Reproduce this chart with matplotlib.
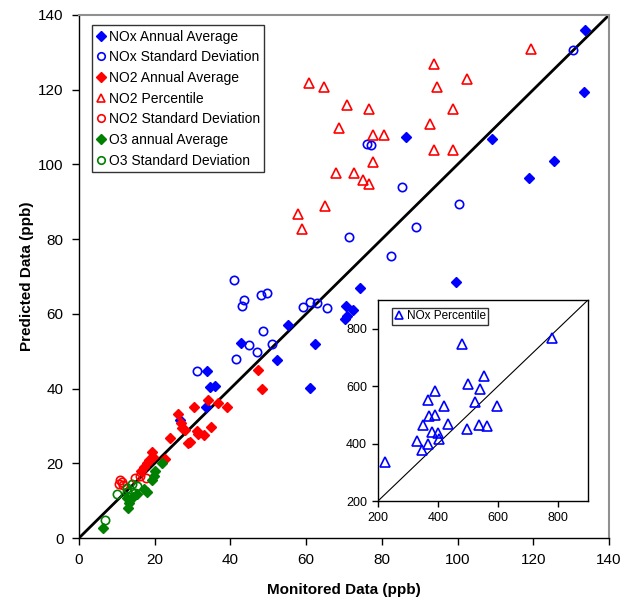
import matplotlib
matplotlib.use("Agg")
import matplotlib.pyplot as plt

plt.rcParams['font.family'] = ['Liberation Sans', 'DejaVu Sans']

# ---------------- data (monitored, predicted) ----------------
nox_avg_x = [133.7, 133.4, 86.4, 109.1, 125.5, 118.9, 99.5, 74.1, 70.5, 72.3, 70.7, 70.3,
             55.2, 42.7, 62.3, 52.2, 33.7, 34.6, 35.9, 61.0, 33.5, 26.7]
nox_avg_y = [135.9, 119.5, 107.4, 106.9, 100.9, 96.3, 68.6, 67.0, 62.1, 61.0, 59.4, 58.7,
             57.1, 52.3, 52.0, 47.6, 44.7, 40.3, 40.7, 40.1, 35.2, 31.5]

nox_sd_x = [130.6, 76.2, 77.1, 85.4, 100.4, 89.0, 82.3, 71.2, 41.0, 43.7, 43.1, 48.2,
            49.6, 59.2, 61.0, 62.8, 65.4, 48.5, 44.9, 51.0, 47.0, 41.5, 31.1]
nox_sd_y = [130.5, 105.6, 105.2, 94.0, 89.3, 83.2, 75.4, 80.6, 69.1, 63.8, 62.1, 65.1,
            65.7, 61.8, 63.2, 62.8, 61.7, 55.3, 51.7, 52.0, 49.7, 47.8, 44.8]

no2_avg_x = [47.4, 48.3, 30.5, 34.2, 36.6, 39.0, 26.2, 26.9, 27.1, 28.0, 31.1, 31.5,
             33.0, 34.8, 24.0, 28.9, 29.3, 19.2, 19.6, 18.5, 17.9, 17.2, 16.5, 22.7]
no2_avg_y = [44.9, 39.8, 35.2, 37.0, 36.1, 35.0, 33.3, 30.7, 29.5, 28.8, 28.6, 27.9,
             27.7, 29.6, 26.9, 25.3, 25.8, 23.0, 21.7, 21.0, 20.0, 19.0, 17.9, 21.2]

no2_pct_x = [119.5, 93.8, 102.6, 94.6, 76.7, 98.7, 92.7, 77.7, 80.6, 93.8, 98.7, 77.7,
             74.9, 76.7, 60.8, 64.8, 70.7, 68.8, 67.8, 72.7, 64.9, 57.8, 58.8]
no2_pct_y = [130.8, 126.8, 122.8, 120.7, 114.8, 114.8, 110.7, 107.8, 107.8, 103.8, 103.8, 100.6,
             95.8, 94.8, 121.7, 120.8, 115.8, 109.8, 97.8, 97.8, 88.9, 86.8, 82.8]

no2_sd_x = [17.6, 16.0, 14.8, 10.8, 11.4, 10.5, 11.7]
no2_sd_y = [16.0, 16.5, 16.0, 15.5, 15.1, 14.4, 14.2]

o3_avg_x = [21.8, 20.1, 19.8, 19.3, 17.2, 17.9, 15.2, 14.3, 12.6, 13.3, 13.0, 6.4]
o3_avg_y = [20.0, 17.9, 16.6, 15.5, 13.0, 12.4, 11.7, 11.0, 10.8, 9.4, 8.1, 2.6]

o3_sd_x = [10.0, 12.6, 12.6, 13.9, 15.2, 14.8, 13.0, 6.9]
o3_sd_y = [11.8, 12.2, 13.5, 14.5, 13.9, 12.1, 10.9, 4.7]

nox_pct_x = [222, 481, 781, 554, 501, 541, 389, 367, 420, 522, 596, 369,
             391, 350, 433, 379, 401, 402, 329, 366, 347, 497, 537, 564]
nox_pct_y = [335, 746, 769, 636, 608, 590, 584, 551, 532, 546, 532, 496,
             499, 464, 468, 442, 437, 416, 409, 399, 379, 452, 465, 461]

main_ticks = [0, 20, 40, 60, 80, 100, 120, 140]
inset_ticks = [200, 400, 600, 800]

# ---------------- figure ----------------
W, H = 621, 605
fig = plt.figure(figsize=(W / 100, H / 100), dpi=100)
ax = fig.add_axes([79 / W, 67 / H, 530 / W, 523 / H])

BLUE, RED, GREEN = '#0000FF', '#FF0000', '#008000'
ms_d, ms_o, ms_t = 5.5, 6, 6.5

ax.plot([0, 140], [0, 140], color='black', lw=2, zorder=1)
ax.plot(nox_avg_x, nox_avg_y, ls='none', marker='D', ms=ms_d, color=BLUE, mec=BLUE,
        label='NOx Annual Average', zorder=3)
ax.plot(nox_sd_x, nox_sd_y, ls='none', marker='o', ms=ms_o, mfc='none', mec=BLUE, mew=1.2,
        label='NOx Standard Deviation', zorder=3)
ax.plot(no2_avg_x, no2_avg_y, ls='none', marker='D', ms=ms_d, color=RED, mec=RED,
        label='NO2 Annual Average', zorder=3)
ax.plot(no2_pct_x, no2_pct_y, ls='none', marker='^', ms=ms_t, mfc='none', mec=RED, mew=1.2,
        label='NO2 Percentile', zorder=3)
ax.plot(no2_sd_x, no2_sd_y, ls='none', marker='o', ms=ms_o, mfc='none', mec=RED, mew=1.2,
        label='NO2 Standard Deviation', zorder=3)
ax.plot(o3_avg_x, o3_avg_y, ls='none', marker='D', ms=ms_d, color=GREEN, mec=GREEN,
        label='O3 annual Average', zorder=3)
ax.plot(o3_sd_x, o3_sd_y, ls='none', marker='o', ms=ms_o, mfc='none', mec=GREEN, mew=1.2,
        label='O3 Standard Deviation', zorder=3)

ax.set_xlim(0, 140)
ax.set_ylim(0, 140)
ax.set_xticks(main_ticks)
ax.set_yticks(main_ticks)
ax.tick_params(direction='out', length=5, width=1, labelsize=11, colors='black',
               top=False, right=False, pad=6)
for s in ['left', 'bottom']:
    ax.spines[s].set_color('black')
    ax.spines[s].set_linewidth(1)
for s in ['top', 'right']:
    ax.spines[s].set_color('#909090')
    ax.spines[s].set_linewidth(1.5)
ax.set_xlabel('Monitored Data (ppb)', fontsize=11, fontweight='bold', labelpad=11)
ax.set_ylabel('Predicted Data (ppb)', fontsize=11, fontweight='bold', labelpad=3)

leg = ax.legend(loc='upper left', bbox_to_anchor=(0.024, 0.98), fontsize=10,
                frameon=True, fancybox=False, edgecolor='black', handlelength=0.7,
                handletextpad=0.25, labelspacing=0.48, borderpad=0.3, borderaxespad=0,
                markerscale=0.9)
leg.get_frame().set_linewidth(1)

# ---------------- inset ----------------
axi = fig.add_axes([378 / W, 104 / H, 210 / W, 201 / H])
axi.set_facecolor('white')
axi.plot([200, 900], [200, 900], color='black', lw=0.8, zorder=1)
axi.plot(nox_pct_x, nox_pct_y, ls='none', marker='^', ms=ms_t, mfc='none', mec=BLUE, mew=1.2,
         label='NOx Percentile', zorder=3)
axi.set_xlim(200, 900)
axi.set_ylim(200, 900)
axi.set_xticks(inset_ticks)
axi.set_yticks(inset_ticks)
axi.tick_params(direction='out', length=4, width=1, labelsize=9, top=False, right=False, pad=4)
for s in axi.spines.values():
    s.set_color('black')
    s.set_linewidth(1)
li = axi.legend(loc='upper left', bbox_to_anchor=(0.065, 0.96), fontsize=8.5,
                frameon=True, fancybox=False, edgecolor='black', handlelength=0.8,
                handletextpad=0.3, borderpad=0.2, borderaxespad=0, markerscale=0.9)
li.get_frame().set_linewidth(1)

fig.savefig('out.png', dpi=100)
